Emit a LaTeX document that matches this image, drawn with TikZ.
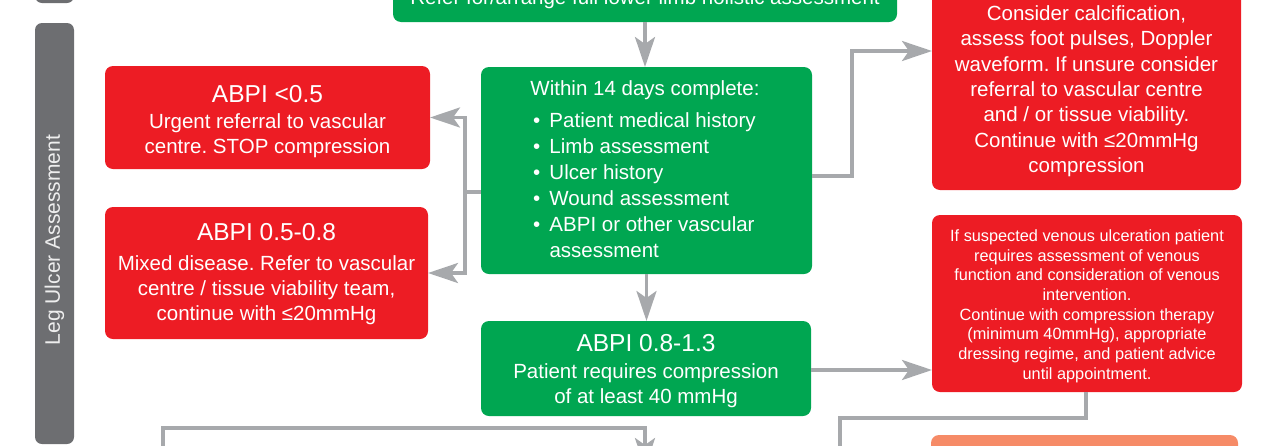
\documentclass[tikz,border=0pt]{standalone}
\usepackage{fontspec}
\setmainfont{Liberation Sans}
\frenchspacing
\usetikzlibrary{arrows.meta}
\definecolor{nhsred}{HTML}{ED1C24}
\definecolor{nhsgreen}{HTML}{00A651}
\definecolor{bargray}{HTML}{6D6E71}
\definecolor{linegray}{HTML}{A7A9AC}
\definecolor{salmon}{HTML}{F68B67}
\definecolor{bartext}{HTML}{EEEEEE}
\newcommand\ttlfont{\fontsize{24.5}{25}\selectfont}
\tikzset{
  box/.style={rounded corners=8pt, draw=none, inner sep=0pt, outer sep=0pt,
    text=white, align=center, font=\fontsize{20.5}{25}\selectfont},
  redbox/.style={box, fill=nhsred},
  greenbox/.style={box, fill=nhsgreen},
  salmonbox/.style={box, fill=salmon},
  barbox/.style={rounded corners=7pt, fill=bargray, draw=none, inner sep=0pt, outer sep=0pt},
  plaintext/.style={inner sep=0pt, outer sep=0pt, text=white, align=center,
    font=\fontsize{20.5}{25.3}\selectfont},
  line/.style={draw=linegray, line width=3.5pt},
  conn/.style={line, -{Stealth[length=30pt,width=20pt,inset=7pt]}},
}
\begin{document}
\begin{tikzpicture}[x=1pt,y=-1pt]
\useasboundingbox (0,0) rectangle (1280,445);
\clip (0,0) rectangle (1280,445);

% left bars
\node[barbox, minimum width=39pt, minimum height=66pt] (bar1) at (54.5,-30) {};
\node[barbox, minimum width=39pt, minimum height=421pt] (bar2) at (54.5,233.5) {};
\node[rotate=90, inner sep=0pt, text=bartext, font=\fontsize{21}{25}\selectfont] (bart) at (54.5,240) {Leg Ulcer Assessment};

% top green box (cut off)
\node[greenbox, minimum width=504pt, minimum height=82pt] (g1) at (645,-19) {};
\node[plaintext, anchor=base] (g1t) at (645,4) {Refer for/arrange full lower limb holistic assessment};

% central green box with list
\node[greenbox, minimum width=331pt, minimum height=207pt] (g2) at (646.5,170.5) {};
\node[plaintext, anchor=base] (g2t) at (645,95) {Within 14 days complete:};
\node[plaintext, align=left, anchor=north west, font=\fontsize{20.5}{26}\selectfont] (g2l) at (533,113)
  {\makebox[16.5pt][l]{•}Patient medical history\\
   \makebox[16.5pt][l]{•}Limb assessment\\
   \makebox[16.5pt][l]{•}Ulcer history\\
   \makebox[16.5pt][l]{•}Wound assessment\\
   \makebox[16.5pt][l]{•}ABPI or other vascular\\
   \hspace*{16.5pt}assessment};

% ABPI 0.8-1.3
\node[greenbox, minimum width=330pt, minimum height=95pt] (g3) at (646,368.5)
  {\rule{0pt}{22pt}{\ttlfont ABPI 0.8-1.3}\\[2.3pt] Patient requires compression\\ of at least 40 mmHg};

% left red boxes
\node[redbox, minimum width=325pt, minimum height=103pt] (r1) at (267.5,117.5)
  {\rule{0pt}{25pt}{\ttlfont ABPI <0.5}\\[1.6pt] Urgent referral to vascular\\ centre. STOP compression};
\node[redbox, minimum width=323pt, minimum height=132pt] (r2) at (266.5,273)
  {\rule{0pt}{20pt}{\ttlfont ABPI 0.5-0.8}\\[5pt] Mixed disease. Refer to vascular\\ centre / tissue viability team,\\ continue with ≤20mmHg};

% right red box (cut off)
\node[redbox, minimum width=309pt, minimum height=250pt] (rb4) at (1086.5,65) {};
\node[plaintext, anchor=north] (rb4t) at (1086.5,5.7)
  {Consider calcification,\\ assess foot pulses, Doppler\\ waveform. If unsure consider\\ referral to vascular centre\\ and / or tissue viability.\\ Continue with ≤20mmHg\\ compression};

% venous box
\node[redbox, minimum width=310pt, minimum height=177pt, font=\fontsize{16.3}{19.7}\selectfont] (rv) at (1087,303.5)
  {\rule{0pt}{17pt}If suspected venous ulceration patient\\ requires assessment of venous\\ function and consideration of venous\\ intervention.\\ Continue with compression therapy\\ (minimum 40mmHg), appropriate\\ dressing regime, and patient advice\\ until appointment.};

% salmon box (cut off)
\node[salmonbox, minimum width=307pt, minimum height=85pt] (sb) at (1084.5,477.5) {};

% connectors
\coordinate (j1) at (465,192);
\coordinate (k1) at (852,51);
\coordinate (k3) at (840,418);
\coordinate (e1) at (840,470);
\coordinate (e2) at (163,470);
\coordinate (k4) at (163,428);
\coordinate (k5) at (645,428);
\coordinate (e3) at (645,468);

\draw[conn] (g1.south) -- (g1.south |- g2.north);
\draw[line] (g2.west |- j1) -- (j1);
\draw[conn] (j1) |- (r1.east);
\draw[conn] (j1) |- (r2.east);
\draw[conn] (g2.east |- 0,176) -| (k1) -- (rb4.west |- k1);
\draw[conn] (g2.south) -- (g2.south |- g3.north);
\draw[conn] (g3.east |- 0,370) -- (rv.west |- 0,370);
\draw[line] (rv.south -| 1086,0) |- (k3) -- (e1);
\draw[conn] (e2) -- (k4) -- (k5) -- (e3);
\end{tikzpicture}
\end{document}
